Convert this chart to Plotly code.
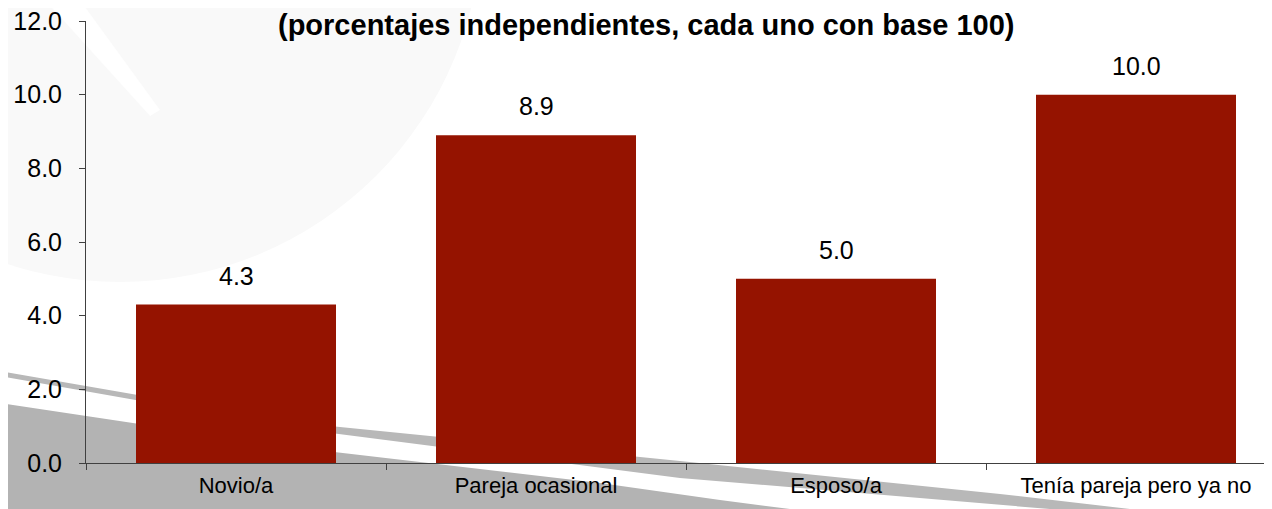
import plotly.graph_objects as go

categories = ["Novio/a", "Pareja ocasional", "Esposo/a", "Tenía pareja pero ya no"]
values = [4.3, 8.9, 5.0, 10.0]
y_ticks = [0, 2, 4, 6, 8, 10, 12]
title_text = "(porcentajes independientes, cada uno con base 100)"

# page has an 8px body margin: size the figure so it fills the 1272x509 window
OFF = 8
W, H = 1272 - OFF, 509 - OFF
PL, PT, PB, PR = 86, 21, 463, 1272          # plot-area edges in page pixels
L, T = PL - OFF, PT - OFF
B = (OFF + H) - PB
R = 0
PW, PH = W - L - R, H - T - B

def px(x, y):
    """page pixel -> paper coordinates"""
    return ((x - PL) / PW, (PB - y) / PH)

def poly(points):
    pts = [px(x, y) for x, y in points]
    return "M " + " L ".join(f"{a:.4f},{b:.4f}" for a, b in pts) + " Z"

fig = go.Figure()
fig.add_trace(go.Bar(
    x=categories, y=values,
    marker=dict(color="#951300", line=dict(width=0)),
    hoverinfo="skip",
))

shapes = []
# faint circular watermark top-left
cx0, cy0 = px(120 - 362, -80 - 362)
cx1, cy1 = px(120 + 362, -80 + 362)
shapes.append(dict(type="circle", xref="paper", yref="paper", layer="below",
                   x0=cx0, y0=cy1, x1=cx1, y1=cy0,
                   fillcolor="#f9f9f9", line=dict(width=0)))
shapes.append(dict(type="path", xref="paper", yref="paper", layer="below",
                   path=poly([(45, 0), (80, 0), (160, 110), (150, 116)]),
                   fillcolor="#ffffff", line=dict(width=0)))
# grey swoosh at the bottom
shapes.append(dict(type="path", xref="paper", yref="paper", layer="below",
                   path=poly([(0, 403), (300, 448), (600, 483), (720, 500), (790, 509), (0, 509)]),
                   fillcolor="#b3b3b3", line=dict(width=0)))
shapes.append(dict(type="path", xref="paper", yref="paper", layer="below",
                   path=poly([(0, 371), (300, 423), (680, 461), (1000, 494), (1130, 509),
                              (1050, 509), (680, 478), (300, 429), (0, 376)]),
                   fillcolor="#b8b8b8", line=dict(width=0)))
fig.update_layout(shapes=shapes)

annotations = [dict(x=c, y=v, text=f"{v:.1f}", showarrow=False, yanchor="bottom",
                    yshift=13, font=dict(size=25, color="#000000", family="Liberation Sans"))
               for c, v in zip(categories, values)]
tx, ty = px(646, OFF)
annotations.append(dict(x=tx, y=ty, xref="paper", yref="paper", text=f"<b>{title_text}</b>",
                        showarrow=False, xanchor="center", yanchor="top", borderpad=0,
                        font=dict(size=29, color="#000000", family="Liberation Sans")))
fig.update_layout(annotations=annotations)

fig.update_layout(
    width=W, height=H,
    margin=dict(l=L, r=R, t=T, b=B, pad=0),
    paper_bgcolor="#ffffff",
    plot_bgcolor="rgba(0,0,0,0)",
    showlegend=False,
    bargap=1/3,
    font=dict(family="Liberation Sans", color="#000000"),
)
fig.update_xaxes(
    type="category", range=[-0.5, -0.5 + PW / 300], tickson="boundaries",
    ticks="outside", ticklen=6, tickcolor="#404040", tickwidth=1,
    showline=True, linecolor="#404040", linewidth=1, showgrid=False, zeroline=False,
    tickfont=dict(size=22, family="Liberation Sans", color="#000000"),
    ticklabelstandoff=3,
)
fig.update_yaxes(
    range=[0, 12], tickvals=y_ticks, tickformat=".1f",
    ticks="outside", ticklen=6, tickcolor="#404040", tickwidth=1,
    showline=True, linecolor="#404040", linewidth=1, showgrid=False, zeroline=False,
    tickfont=dict(size=25, family="Liberation Sans", color="#000000"),
    ticklabelstandoff=12, ticklabeloverflow="allow",
)

fig.write_html("out.html")
